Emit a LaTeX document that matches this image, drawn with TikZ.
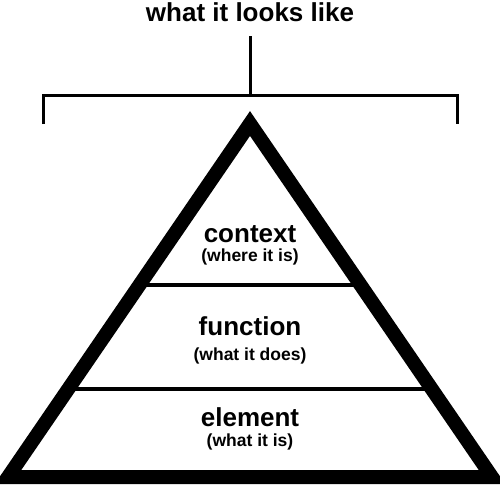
\documentclass[tikz,border=0pt]{standalone}
\usepackage{fontspec}
\setmainfont{Liberation Sans}
\usetikzlibrary{calc}
\begin{document}
\begin{tikzpicture}[x=1pt,y=-1pt,
  level_text/.style={font=\fontsize{26}{26}\selectfont\bfseries, anchor=base},
  sub_text/.style={font=\fontsize{17.5}{17.5}\selectfont\bfseries, anchor=base},
  bracket_line/.style={line width=3pt, line join=miter},
  split_line/.style={line width=3.5pt}]

  \useasboundingbox (0,0) rectangle (500,485);

  \node[level_text, inner ysep=15pt] (title) at (250,21) {what it looks like};

  \coordinate (hook) at (250,95);
  \coordinate (left_end) at (43,124);
  \coordinate (right_end) at (457,124);

  \coordinate (top) at (250,123.5);
  \coordinate (left) at (8,477);
  \coordinate (right) at (492,477);

  \draw[bracket_line] (title.south) -- (hook);
  \draw[bracket_line] (left_end) |- (hook) -| (right_end);

  \draw[split_line] ($(top)!0.4569!(left)$) -- ($(top)!0.4569!(right)$);
  \draw[split_line] ($(top)!0.751!(left)$) -- ($(top)!0.751!(right)$);

  \draw[line width=14pt, line join=miter] (top) -- (left) -- (right) -- cycle;

  \node[level_text] (context) at (250,242) {context};
  \node[sub_text] (context_sub) at (250,261) {(where it is)};
  \node[level_text] (function) at (250,335) {function};
  \node[sub_text] (function_sub) at (250,360) {(what it does)};
  \node[level_text] (element) at (250,426) {element};
  \node[sub_text] (element_sub) at (250,446) {(what it is)};
\end{tikzpicture}
\end{document}
